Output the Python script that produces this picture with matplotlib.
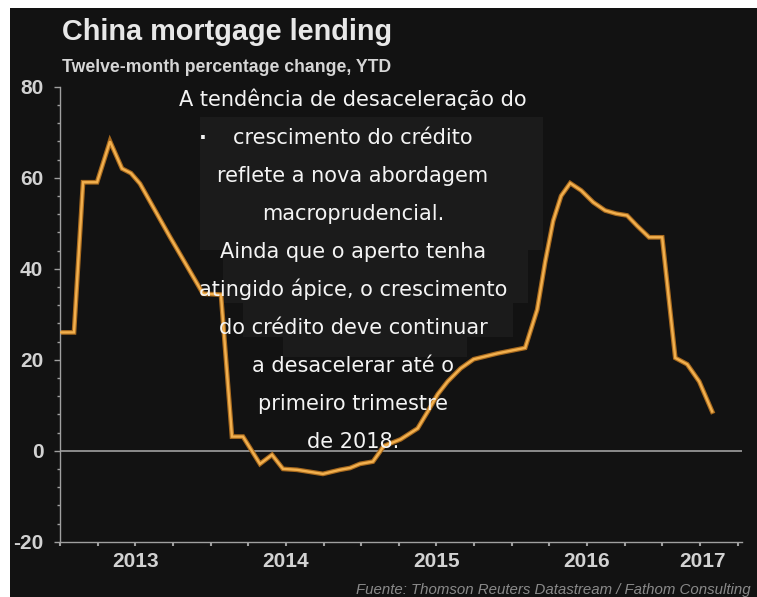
import matplotlib
matplotlib.use("Agg")
import matplotlib.pyplot as plt
from matplotlib.patches import Rectangle
import numpy as np

# ---------------- data ----------------
dates = [2013.000, 2013.093, 2013.153, 2013.246, 2013.332, 2013.412, 2013.471,
         2013.531, 2013.730, 2013.950, 2014.069, 2014.142, 2014.215, 2014.328,
         2014.408, 2014.481, 2014.574, 2014.746, 2014.859, 2014.926, 2014.992,
         2015.078, 2015.125, 2015.149, 2015.262, 2015.375, 2015.442, 2015.508,
         2015.574, 2015.661, 2015.747, 2015.907, 2016.089, 2016.169, 2016.222,
         2016.275, 2016.328, 2016.388, 2016.461, 2016.541, 2016.620, 2016.693,
         2016.766, 2016.833, 2016.912, 2016.999, 2017.086, 2017.165, 2017.245,
         2017.331]
values = [26.0, 26.0, 59.0, 59.0, 68.0, 62.0, 61.0,
          58.7, 47.0, 34.5, 34.3, 3.1, 3.1, -2.9,
          -0.9, -4.0, -4.2, -5.1, -4.2, -3.8, -2.9,
          -2.4, -0.2, 1.0, 2.5, 4.9, 8.6, 12.4,
          15.2, 18.1, 20.1, 21.4, 22.6, 31.0, 41.5,
          50.5, 56.0, 58.8, 57.2, 54.6, 52.8, 52.1,
          51.7, 49.4, 46.9, 46.9, 20.4, 19.0, 15.2,
          8.6]
years = [2013, 2014, 2015, 2016, 2017]
y_ticks = [-20, 0, 20, 40, 60, 80]

title = "China mortgage lending"
subtitle = "Twelve-month percentage change, YTD"
source = "Fuente: Thomson Reuters Datastream / Fathom Consulting"
overlay_lines = [
    "A tendência de desaceleração do",
    "crescimento do crédito",
    "reflete a nova abordagem",
    "macroprudencial.",
    "Ainda que o aperto tenha",
    "atingido ápice, o crescimento",
    "do crédito deve continuar",
    "a desacelerar até o",
    "primeiro trimestre",
    "de 2018.",
]

# ---------------- figure ----------------
W, H = 757, 597
fig = plt.figure(figsize=(W / 100, H / 100), dpi=100, facecolor="white")

def fx(px):
    return px / W

def fy(py):
    return 1 - py / H

BG = "#121212"
fig.patches.append(Rectangle((fx(10), 0), 1 - fx(10), fy(8), transform=fig.transFigure,
                             facecolor=BG, edgecolor="none", zorder=0))

# subtle lighter boxes behind overlay text
boxes = [(200, 117, 543, 250), (223, 250, 528, 303), (243, 303, 513, 337), (283, 337, 467, 357)]
for x0, y0, x1, y1 in boxes:
    fig.patches.append(Rectangle((fx(x0), fy(y1)), fx(x1) - fx(x0), fy(y0) - fy(y1),
                                 transform=fig.transFigure, facecolor="#1b1b1b",
                                 edgecolor="none", zorder=0.5))

xmin, xmax = 2013.0, 2017.529
ax = fig.add_axes([fx(60), fy(541.7), fx(742) - fx(60), fy(86.7) - fy(541.7)])
ax.set_zorder(2)
ax.set_facecolor("none")
ax.patch.set_alpha(0)
ax.set_xlim(xmin, xmax)
ax.set_ylim(-20, 80)

ax.axhline(0, color="#8c8c8c", lw=1.4, zorder=1)

ax.plot(dates, values, color="#a86a1e", lw=3.4, solid_joinstyle="miter", zorder=2)
ax.plot(dates, values, color="#f2b04e", lw=1.7, solid_joinstyle="miter", zorder=3)

for s in ["top", "right"]:
    ax.spines[s].set_visible(False)
for s in ["left", "bottom"]:
    ax.spines[s].set_color("#a0a0a0")
    ax.spines[s].set_linewidth(1.0)

lab_font = dict(family="Liberation Sans", weight="bold", size=15, color="#d2d2d2")

ax.set_yticks(y_ticks)
ax.set_yticklabels([str(v) for v in y_ticks], fontdict=lab_font)
ax.set_yticks(np.arange(-20, 81, 4), minor=True)
ax.tick_params(axis="y", which="major", length=4, width=1, color="#a0a0a0", pad=8)
ax.tick_params(axis="y", which="minor", length=2, width=1, color="#a0a0a0")

ax.set_xticks(np.arange(2013.0, 2017.51, 0.25))
ax.set_xticklabels([])
ax.tick_params(axis="x", which="major", length=3, width=1.5, color="#a0a0a0")

# year labels centred in the visible part of each year
for y in years:
    pos = (max(y, xmin) + min(y + 1, xmax)) / 2
    ax.annotate(str(y), xy=(pos, 0), xycoords=("data", "axes fraction"),
                xytext=(0, -14.5), textcoords="offset points",
                ha="center", va="center", annotation_clip=False, **lab_font)

fig.text(fx(62), fy(40), title, family="Liberation Sans", weight="bold", size=20.8,
         color="#e8e8e8", ha="left", va="baseline")
fig.text(fx(62), fy(72), subtitle, family="Liberation Sans", weight="bold", size=12.7,
         color="#d6d6d6", ha="left", va="baseline")
fig.text(fx(751), fy(594), source, family="Liberation Sans", style="italic", size=10.8,
         color="#8a8a8a", ha="right", va="baseline")

for i, line in enumerate(overlay_lines):
    fig.text(fx(353), fy(105.5 + 38.1 * i), line, family="DejaVu Sans", size=15,
             color="#f4f4f4", ha="center", va="baseline", zorder=5)
fig.text(fx(203), fy(143.6), "·", family="DejaVu Sans", weight="bold", size=15,
         color="#f4f4f4", ha="center", va="baseline", zorder=5)

fig.savefig("out.png", dpi=100, facecolor="white")
